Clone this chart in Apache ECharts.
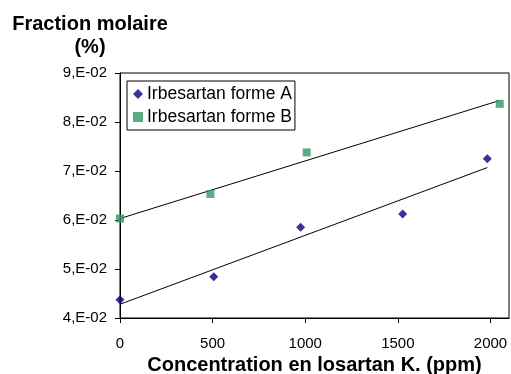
<!DOCTYPE html>
<html>
<head>
<meta charset="utf-8">
<script src="https://cdn.jsdelivr.net/npm/echarts@6/dist/echarts.min.js"></script>
<style>
html,body{margin:0;padding:0;background:#fff;}
#chart{width:511px;height:374px;}
</style>
</head>
<body>
<div id="chart"></div>
<script>
// ---- data ----
const formeA_x = [0, 506, 975, 1526, 1983];
const formeA_y = [0.0437, 0.0484, 0.0585, 0.0612, 0.0725];
const formeB_x = [0, 488, 1008, 2050];
const formeB_y = [0.0603, 0.0653, 0.0738, 0.0837];
// trend line end points
const trendA_x = [0, 1983];
const trendA_y = [0.0428, 0.0707];
const trendB_x = [0, 2050];
const trendB_y = [0.0603, 0.0844];
const xTicks = [0, 500, 1000, 1500, 2000];
const yTickLabels = ['4,E-02', '5,E-02', '6,E-02', '7,E-02', '8,E-02', '9,E-02'];
const seriesNames = ['Irbesartan forme A', 'Irbesartan forme B'];

const zip = (xs, ys) => xs.map((x, i) => [x, ys[i]]);
const FONT = '"Liberation Sans", Arial, sans-serif';

const chart = echarts.init(document.getElementById('chart'), null, {renderer: 'canvas'});
chart.setOption({
  animation: false,
  backgroundColor: '#ffffff',
  grid: {left: 120, right: 2, top: 73, bottom: 56, show: true, borderColor: '#000', borderWidth: 1,
    backgroundColor: 'transparent', outerBoundsMode: 'none', containLabel: false},
  graphic: [
    {type: 'text', x: 90, y: 14, style: {text: 'Fraction molaire', textAlign: 'center', fontFamily: FONT, fontWeight: 'bold', fontSize: 20, fill: '#000'}},
    {type: 'text', x: 90, y: 37, style: {text: '(%)', textAlign: 'center', fontFamily: FONT, fontWeight: 'bold', fontSize: 20, fill: '#000'}}
  ],
  legend: {
    orient: 'vertical', left: 127, top: 81,
    backgroundColor: '#fff', borderColor: '#000', borderWidth: 1,
    padding: [4, 3, 4, 6], itemGap: 5, itemWidth: 10, itemHeight: 10,
    textStyle: {fontFamily: FONT, fontSize: 17.5, color: '#000', padding: [0, 0, 0, -1]},
    data: [
      {name: seriesNames[0], icon: 'diamond'},
      {name: seriesNames[1], icon: 'rect'}
    ]
  },
  xAxis: {
    type: 'value', min: 0, max: 2100,
    name: 'Concentration en losartan K. (ppm)', nameLocation: 'middle', nameGap: 31,
    nameTextStyle: {fontFamily: FONT, fontWeight: 'bold', fontSize: 20, color: '#000'},
    axisLine: {show: true, lineStyle: {color: '#000', width: 1}},
    axisTick: {show: true, inside: false, length: 5, lineStyle: {color: '#000'}, customValues: xTicks},
    axisLabel: {fontFamily: FONT, fontSize: 15, color: '#000', margin: 18, customValues: xTicks,
      formatter: v => String(v)},
    splitLine: {show: false}
  },
  yAxis: {
    type: 'value', min: 0.04, max: 0.09, interval: 0.01,
    axisLine: {show: true, lineStyle: {color: '#000', width: 1}},
    axisTick: {show: true, length: 5, lineStyle: {color: '#000'}},
    axisLabel: {fontFamily: FONT, fontSize: 15, color: '#000', margin: 13,
      formatter: v => yTickLabels[Math.round(v * 100) - 4]},
    splitLine: {show: false}
  },
  series: [
    {name: seriesNames[0], type: 'scatter', symbol: 'diamond', symbolSize: 9, itemStyle: {color: '#000080'}, data: zip(formeA_x, formeA_y), z: 5},
    {name: seriesNames[1], type: 'scatter', symbol: 'rect', symbolSize: 8, itemStyle: {color: '#339966'}, data: zip(formeB_x, formeB_y), z: 5},
    {name: 'trendA', type: 'line', data: zip(trendA_x, trendA_y), showSymbol: false, symbol: 'none', lineStyle: {color: '#000', width: 1}, z: 3, silent: true},
    {name: 'trendB', type: 'line', data: zip(trendB_x, trendB_y), showSymbol: false, symbol: 'none', lineStyle: {color: '#000', width: 1}, z: 3, silent: true}
  ]
});
</script>
</body>
</html>
